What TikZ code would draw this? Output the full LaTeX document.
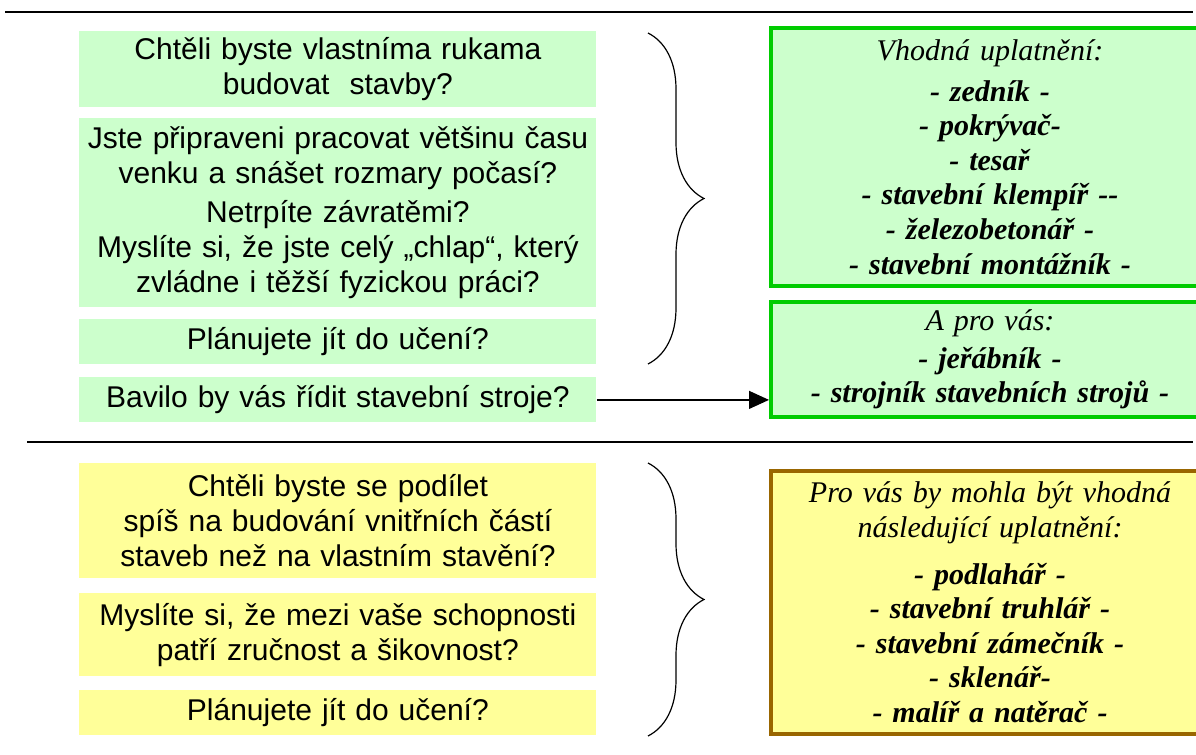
\documentclass[tikz,border=0pt]{standalone}
\usepackage{fontspec}
\setmainfont{Liberation Serif}
\setsansfont{Liberation Sans}
\usetikzlibrary{arrows.meta,decorations.pathreplacing}

\definecolor{svetlezelena}{RGB}{204,255,204}
\definecolor{svetlezluta}{RGB}{255,255,153}
\definecolor{zelenaram}{RGB}{0,204,0}
\definecolor{hnedaram}{RGB}{153,102,0}

\tikzset{
  otazka/.style={anchor=north west, inner sep=0pt, minimum width=258.5pt,
    text width=258pt, align=center, font=\sffamily\fontsize{15}{17.5}\selectfont},
  zelena/.style={otazka, fill=svetlezelena},
  zluta/.style={otazka, fill=svetlezluta},
  nabidka/.style={anchor=north west, draw, line width=2pt, inner sep=0pt,
    minimum width=219pt, text width=205pt, align=center,
    font=\rmfamily\fontsize{15}{17.3}\selectfont},
  oddelovac/.style={line width=0.7pt},
  zavorka/.style={decorate, decoration={brace, amplitude=28pt}, line width=0.6pt},
  sipka/.style={line width=0.6pt, -{Triangle[length=10pt,width=9pt]}}
}

\newcommand{\obor}[1]{\textbf{\textit{#1}}}

\begin{document}
\begin{tikzpicture}[x=0.5pt,y=-0.5pt]
  \useasboundingbox (0,0) rectangle (1196,755);
  \clip (0,0) rectangle (1196,755);

  % oddelovaci cary
  \draw[oddelovac] (5,12) -- (1193,12);
  \draw[oddelovac] (27,442) -- (1193,442);

  % horni cast
  \node[zelena, minimum height=38pt] (q1) at (79,31)
    {Chtěli byste vlastníma rukama\\budovat\ \ stavby?};
  \node[zelena, minimum height=94.5pt] (q2) at (79,118)
    {Jste připraveni pracovat většinu času\\venku a snášet rozmary počasí?\\[2pt]
     Netrpíte závratěmi?\\Myslíte si, že jste celý „chlap“, který\\zvládne i těžší fyzickou práci?};
  \node[zelena, minimum height=22.5pt] (q3) at (79,319) {Plánujete jít do učení?};
  \node[zelena, minimum height=22.5pt] (q4) at (79,377) {Bavilo by vás řídit stavební stroje?};

  \node[nabidka, draw=zelenaram, fill=svetlezelena, minimum height=129pt] (r1) at (769,26)
    {\textit{Vhodná uplatnění:}\\[3pt]
     \obor{- zedník -}\\\obor{- pokrývač-}\\\obor{- tesař}\\
     \obor{- stavební klempíř -{}-}\\\obor{- železobetonář -}\\\obor{- stavební montážník -}};
  \node[nabidka, draw=zelenaram, fill=svetlezelena, minimum height=57.5pt] (r2) at (769,300)
    {\textit{A pro vás:}\\[1.5pt]\obor{- jeřábník -}\\\obor{- strojník stavebních strojů -}};

  \coordinate (hz1) at (648,33);
  \coordinate (dz1) at (648,364);
  \draw[zavorka] (hz1) -- (dz1);

  \draw[sipka] (q4.east) -- (q4.east -| r2.west);

  % dolni cast
  \node[zluta, minimum height=57.5pt] (y1) at (79,463)
    {Chtěli byste se podílet\\spíš na budování vnitřních částí\\staveb než na vlastním stavění?};
  \node[zluta, minimum height=41.5pt] (y2) at (79,593)
    {Myslíte si, že mezi vaše schopnosti\\patří zručnost a šikovnost?};
  \node[zluta, minimum height=22.5pt] (y3) at (79,690) {Plánujete jít do učení?};

  \node[nabidka, draw=hnedaram, fill=svetlezluta, minimum height=131.5pt] (ry) at (769,469)
    {\textit{Pro vás by mohla být vhodná}\\\textit{následující uplatnění:}\\[6pt]
     \obor{- podlahář -}\\\obor{- stavební truhlář -}\\\obor{- stavební zámečník -}\\
     \obor{- sklenář-}\\\obor{- malíř a natěrač -}};

  \coordinate (hz2) at (648,463);
  \coordinate (dz2) at (648,736);
  \draw[zavorka] (hz2) -- (dz2);
\end{tikzpicture}
\end{document}
